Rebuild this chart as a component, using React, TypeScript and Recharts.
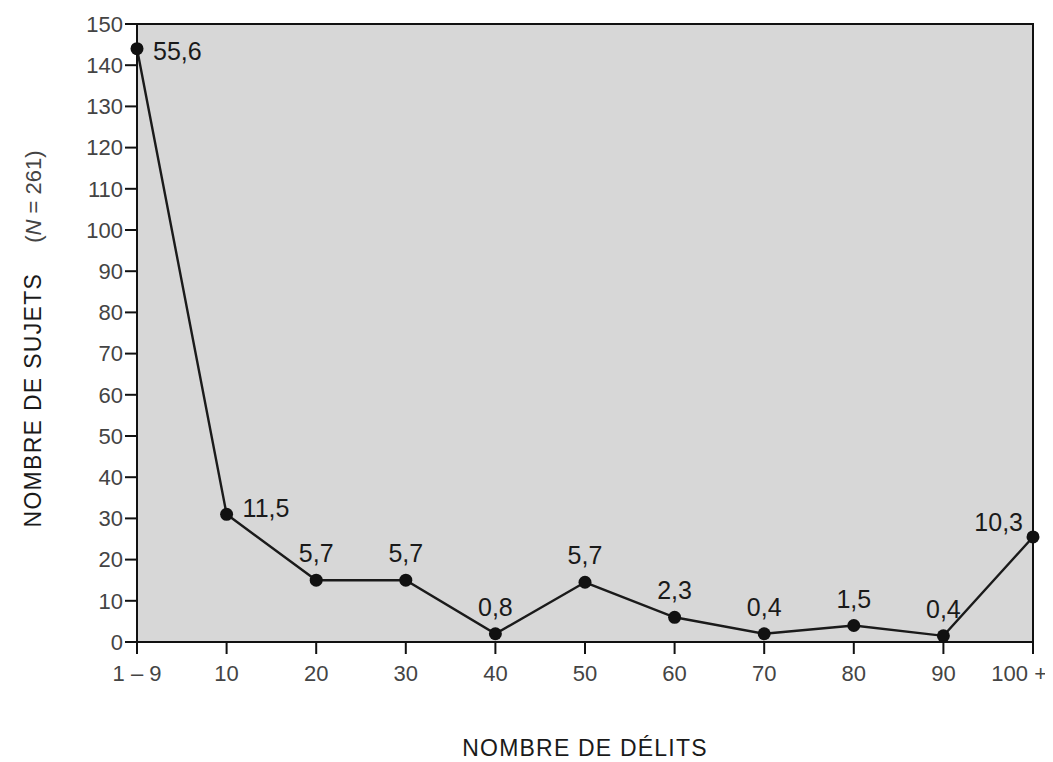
import React from "react";
import {
  LineChart,
  Line,
  XAxis,
  YAxis,
  CartesianGrid,
  ReferenceArea,
  LabelList,
} from "recharts";

const categories = ["1 – 9", "10", "20", "30", "40", "50", "60", "70", "80", "90", "100 +"];
const subjects = [144, 31, 15, 15, 2, 14.5, 6, 2, 4, 1.5, 25.5];
const percentLabels = ["55,6", "11,5", "5,7", "5,7", "0,8", "5,7", "2,3", "0,4", "1,5", "0,4", "10,3"];
const labelPlacement = ["right", "upperRight", "top", "top", "top", "top", "top", "top", "top", "top", "topLeft"];
const yTicks = [0, 10, 20, 30, 40, 50, 60, 70, 80, 90, 100, 110, 120, 130, 140, 150];

const data = categories.map((c, i) => ({ cat: c, n: subjects[i], pct: percentLabels[i] }));

const FONT = '"Liberation Sans", Arial, Helvetica, sans-serif';
const INK = "#1a1a1a";
const TICK_INK = "#444";

const PointLabel = (props: any) => {
  const { x, y, index, value } = props;
  const place = labelPlacement[index];
  let tx = x;
  let ty = y;
  let anchor: "start" | "middle" | "end" = "middle";
  if (place === "right") {
    tx = x + 16;
    ty = y + 2;
    anchor = "start";
  } else if (place === "upperRight") {
    tx = x + 16;
    ty = y - 6;
    anchor = "start";
  } else if (place === "topLeft") {
    tx = x - 10;
    ty = y - 15;
    anchor = "end";
  } else {
    ty = y - 27;
  }
  return (
    <text
      x={tx}
      y={ty}
      textAnchor={anchor}
      dominantBaseline="central"
      fontFamily={FONT}
      fontSize={25}
      fill={INK}
    >
      {value}
    </text>
  );
};

const XTick = (props: any) => {
  const { x, y, payload, index } = props;
  const last = index === categories.length - 1;
  return (
    <text
      x={last ? x + 14 : x}
      y={y}
      dy="0.71em"
      textAnchor={last ? "end" : "middle"}
      fontFamily={FONT}
      fontSize={22}
      fill={TICK_INK}
      style={{ whiteSpace: "pre" }}
    >
      {payload.value}
    </text>
  );
};

const YTitle = (props: any) => {
  const { viewBox } = props;
  const cy = viewBox.y + viewBox.height / 2 + 6;
  const cx = 25;
  return (
    <text
      x={cx}
      y={cy}
      transform={`rotate(-90, ${cx}, ${cy})`}
      textAnchor="middle"
      dominantBaseline="central"
      fontFamily={FONT}
      fontSize={23}
      fill={INK}
      style={{ whiteSpace: "pre" }}
    >
      <tspan letterSpacing={1.3}>NOMBRE DE SUJETS</tspan>
      <tspan dx={30} fill={TICK_INK} style={{ fontSize: 22 }}>(</tspan>
      <tspan fill={TICK_INK} style={{ fontSize: 22, fontStyle: "italic" }}>N</tspan>
      <tspan fill={TICK_INK} style={{ fontSize: 22 }}>{" = 261)"}</tspan>
    </text>
  );
};

export default function App() {
  return (
    <div style={{ width: 1045, height: 754, background: "#fff" }}>
      <LineChart
        width={1045}
        height={754}
        data={data}
        margin={{ top: 16, right: 20, left: 0, bottom: 0 }}
      >
        <CartesianGrid fill="#d7d7d7" horizontal={false} vertical={false} />
        <XAxis
          dataKey="cat"
          height={120}
          interval={0}
          tickLine={{ stroke: "#111", strokeWidth: 2 }}
          axisLine={{ stroke: "#111", strokeWidth: 2 }}
          tickSize={12}
          tickMargin={11}
          tick={<XTick />}
          label={{
            value: "NOMBRE DE DÉLITS",
            position: "insideBottom",
            offset: 6,
            fontFamily: FONT,
            fontSize: 23,
            fill: INK,
            letterSpacing: 1.2,
          }}
        />
        <YAxis
          width={129}
          domain={[0, 150]}
          ticks={yTicks}
          interval={0}
          tickLine={{ stroke: "#111", strokeWidth: 2 }}
          axisLine={{ stroke: "#111", strokeWidth: 2 }}
          tickSize={12}
          tickMargin={2}
          tick={{ fontFamily: FONT, fontSize: 22, fill: TICK_INK }}
          label={<YTitle />}
        />
        <ReferenceArea
          x1={categories[0]}
          x2={categories[categories.length - 1]}
          y1={0}
          y2={150}
          fill="none"
          stroke="#111"
          strokeWidth={2}
        />
        <Line
          type="linear"
          dataKey="n"
          stroke="#1a1a1a"
          strokeWidth={2.4}
          dot={{ r: 6.5, fill: "#111", stroke: "#111", strokeWidth: 0 }}
          isAnimationActive={false}
        >
          <LabelList dataKey="pct" content={<PointLabel />} />
        </Line>
      </LineChart>
    </div>
  );
}
